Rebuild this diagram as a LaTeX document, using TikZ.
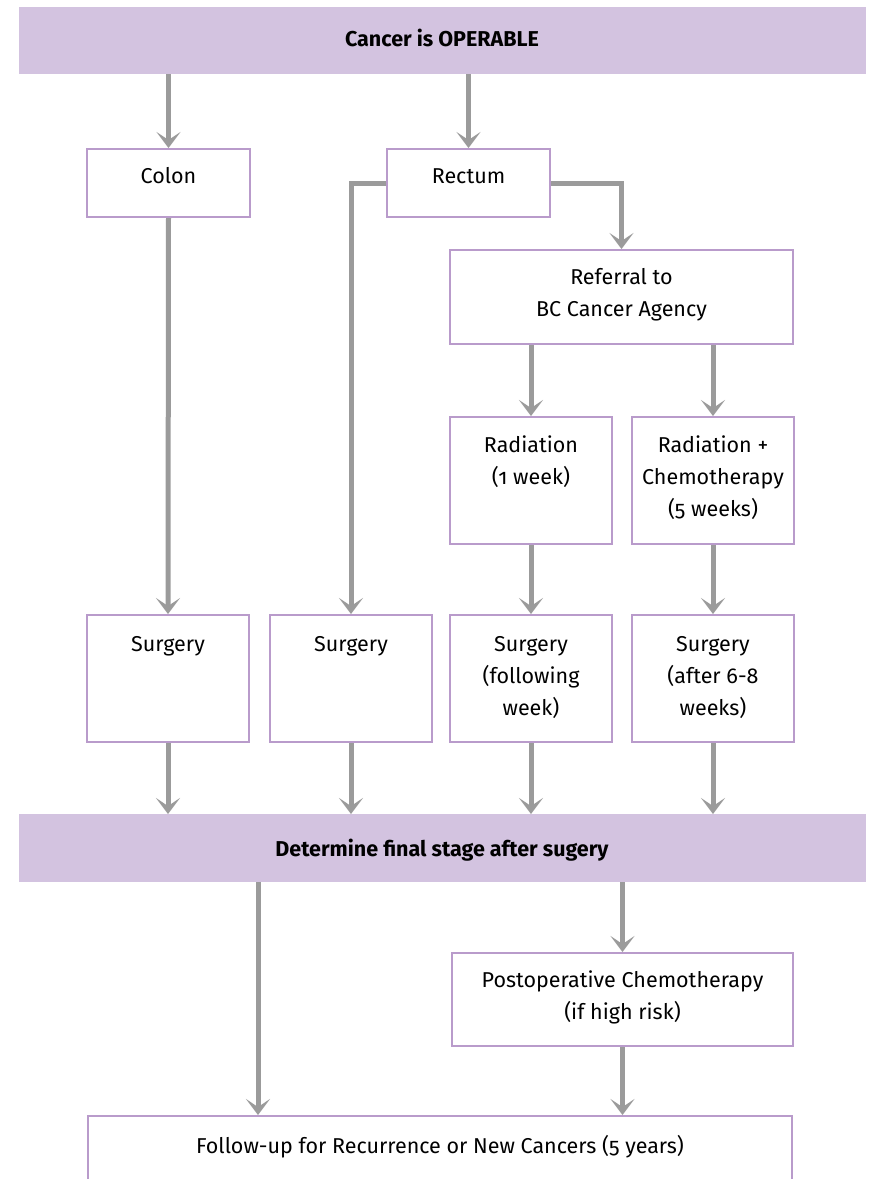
\documentclass[tikz,border=0pt]{standalone}
\usepackage{fontspec}
\setmainfont{Fira Sans}[Numbers=OldStyle]
\usetikzlibrary{arrows.meta}
\definecolor{band}{HTML}{D3C3E0}
\definecolor{edge}{HTML}{B99BCB}
\definecolor{conn}{HTML}{9B9B9B}
\tikzset{
  bandbox/.style={fill=band, draw=none, inner sep=0pt, anchor=north west},
  boxn/.style={draw=edge, line width=2pt, fill=white, inner sep=0pt, anchor=north west},
  txt/.style={font=\fontsize{21.5}{32}\selectfont, align=center, inner sep=0pt, anchor=base},
  btxt/.style={font=\fontsize{21.5}{32}\selectfont\bfseries, align=center, inner sep=0pt, anchor=base},
  arr/.style={draw=conn, line width=5pt, -{Stealth[length=16pt, width=24pt, inset=8pt]}},
  ln/.style={draw=conn, line width=5pt}
}
\begin{document}
\begin{tikzpicture}[x=1pt, y=-1pt]
\useasboundingbox (0,0) rectangle (872,1179);
\clip (0,0) rectangle (872,1179);
% bands
\node[bandbox, minimum width=847pt, minimum height=67pt] (top) at (19,7) {};
\node[btxt] (toptxt) at (442,46.5) {Cancer is OPERABLE};
\node[bandbox, minimum width=847pt, minimum height=68pt] (det) at (19,814) {};
\node[btxt] (dettxt) at (442,856.5) {Determine final stage after sugery};
% boxes
\node[boxn, minimum width=163pt, minimum height=68pt] (colon) at (86,148) {};
\node[boxn, minimum width=163pt, minimum height=68pt] (rectum) at (386,148) {};
\node[boxn, minimum width=343pt, minimum height=94pt] (ref) at (449,249) {};
\node[boxn, minimum width=162pt, minimum height=127pt] (rad) at (449,416) {};
\node[boxn, minimum width=162pt, minimum height=127pt] (radc) at (631,416) {};
\node[boxn, minimum width=162pt, minimum height=127pt] (s1) at (86,614) {};
\node[boxn, minimum width=162pt, minimum height=127pt] (s2) at (269,614) {};
\node[boxn, minimum width=162pt, minimum height=127pt] (s3) at (449,614) {};
\node[boxn, minimum width=162pt, minimum height=127pt] (s4) at (631,614) {};
\node[boxn, minimum width=341pt, minimum height=93pt] (post) at (451,952) {};
\node[boxn, minimum width=704pt, minimum height=120pt] (fu) at (87,1115) {};
% texts (anchor base = baseline of last line)
\node[txt] at ([yshift=-35.5pt]colon.north) {Colon};
\node[txt] at ([yshift=-35.5pt]rectum.north) {Rectum};
\node[txt] at ([yshift=-67.5pt]ref.north) {Referral to\\BC Cancer Agency};
\node[txt] at ([yshift=-68.5pt]rad.north) {Radiation\\(1 week)};
\node[txt] at ([yshift=-100.5pt]radc.north) {Radiation +\\Chemotherapy\\(5 weeks)};
\node[txt] at ([yshift=-37pt]s1.north) {Surgery};
\node[txt] at ([yshift=-37pt]s2.north) {Surgery};
\node[txt] at ([yshift=-101pt]s3.north) {Surgery\\(following\\week)};
\node[txt] at ([yshift=-101pt]s4.north) {Surgery\\(after 6-8\\weeks)};
\node[txt] at ([yshift=-67.5pt]post.north) {Postoperative Chemotherapy\\(if high risk)};
\node[txt] at ([yshift=-38.5pt]fu.north) {Follow-up for Recurrence or New Cancers (5 years)};
% connectors
\draw[arr] (top.south -| colon.north) -- (colon.north);
\draw[arr] (top.south -| rectum.north) -- (rectum.north);
\draw[arr] (colon.south) -- (s1.north);
\draw[arr] (rectum.west) -| (s2.north);
\draw[arr] (rectum.east) -| (ref.north);
\draw[arr] (ref.south -| rad.north) -- (rad.north);
\draw[arr] (ref.south -| radc.north) -- (radc.north);
\draw[arr] (rad.south) -- (s3.north);
\draw[arr] (radc.south) -- (s4.north);
\draw[arr] (s1.south) -- (s1.south |- det.north);
\draw[arr] (s2.south) -- (s2.south |- det.north);
\draw[arr] (s3.south) -- (s3.south |- det.north);
\draw[arr] (s4.south) -- (s4.south |- det.north);
\coordinate (fuL) at (258,1115);
\draw[arr] (det.south -| fuL) -- (fuL);
\draw[arr] (det.south -| post.north) -- (post.north);
\draw[arr] (post.south) -- (post.south |- fu.north);
\end{tikzpicture}
\end{document}
